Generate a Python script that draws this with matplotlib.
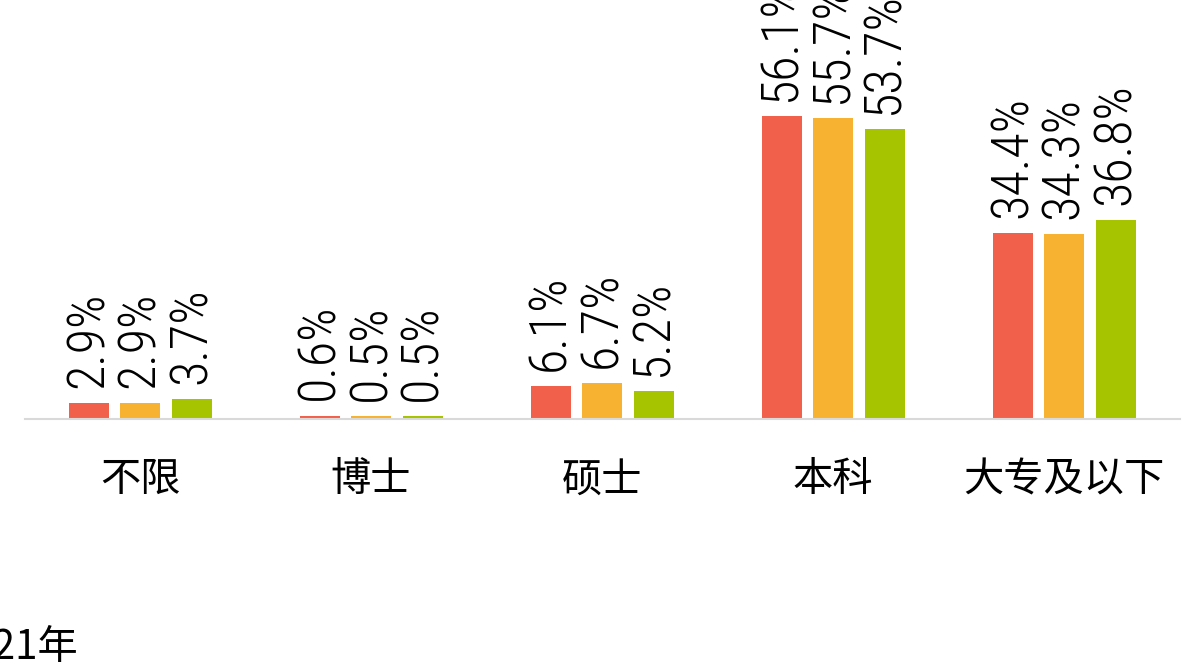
import numpy as np
import matplotlib.pyplot as plt
from matplotlib import font_manager

categories = ["不限", "博士", "硕士", "本科", "大专及以下"]
series_names = ["2019年", "2020年", "2021年"]
values_2019 = [2.9, 0.6, 6.1, 56.1, 34.4]
values_2020 = [2.9, 0.5, 6.7, 55.7, 34.3]
values_2021 = [3.7, 0.5, 5.2, 53.7, 36.8]
colors = ["#F0604B", "#F7B232", "#A6C400"]

plt.rcParams['font.family'] = ['Noto Sans CJK SC', 'DejaVu Sans']

# narrow face for the value labels, if one is there
installed = {f.name for f in font_manager.fontManager.ttflist}
num_font = 'Noto Sans'
num_size = 30
for name in ['Liberation Sans Narrow', 'DejaVu Sans Condensed', 'Roboto Condensed']:
    if name in installed:
        num_font = name
        num_size = 37.5
        break

W, H = 1184, 666
fig = plt.figure(figsize=(W / 100, H / 100), dpi=100)
ax = fig.add_axes([24.5 / W, (H - 419) / H, 1155 / W, 419 / H])

x = np.arange(len(categories))
bar_w = 40 / 231
step = 51.5 / 231
all_values = [values_2019, values_2020, values_2021]

for i, vals in enumerate(all_values):
    bars = ax.bar(x + (i - 1) * step, vals, width=bar_w, color=colors[i],
                  label=series_names[i], zorder=2)
    ax.bar_label(bars, labels=[f"{v:.1f}%" for v in vals], rotation=90,
                 padding=11, fontsize=num_size, family=num_font,
                 fontweight='light', color='black', clip_on=False)

ax.set_xlim(-0.5, len(categories) - 0.5)
ax.set_ylim(0, 419 / 5.4)
ax.set_xticks(x)
ax.set_xticklabels(categories, fontsize=29, fontweight='light')
ax.tick_params(axis='x', length=0, pad=29)
ax.set_yticks([])

for side in ['top', 'right', 'left']:
    ax.spines[side].set_visible(False)
ax.spines['bottom'].set_color('#D9D9D9')
ax.spines['bottom'].set_linewidth(1.5)

# legend remnant cut off at left edge
fig.text(78 / W, 1 - 647 / H, "2021年", ha='right', va='center',
         fontsize=29, fontweight='light')

fig.savefig("out.png", dpi=100)
